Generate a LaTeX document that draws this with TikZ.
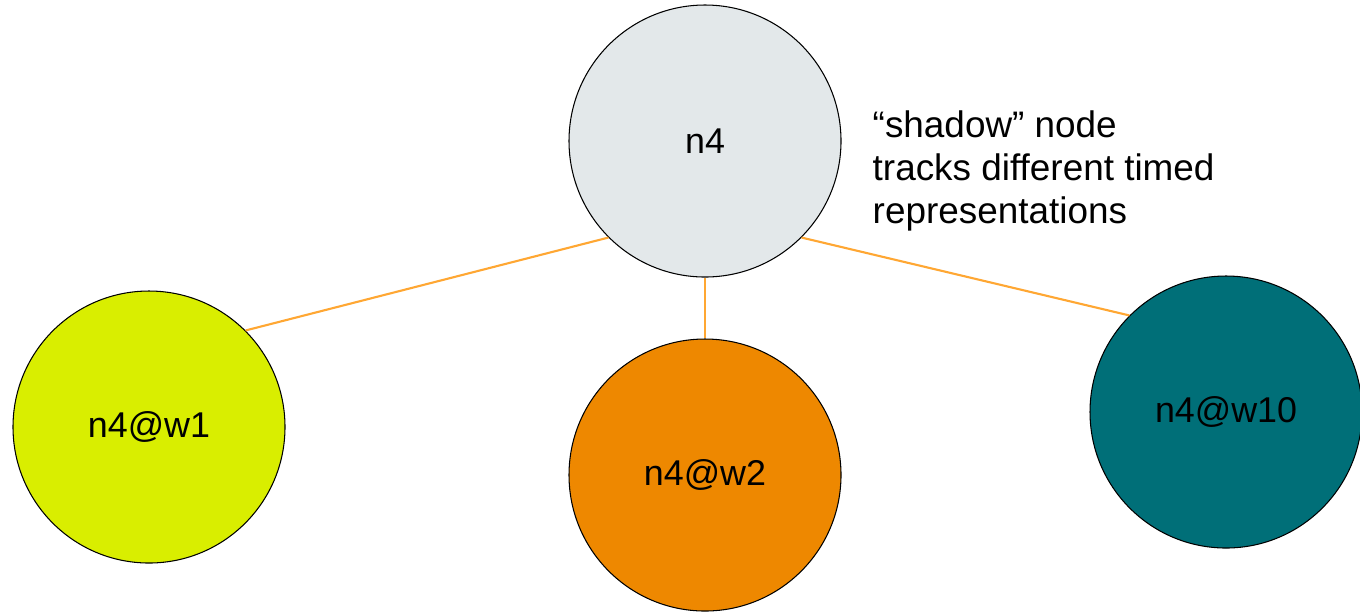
\documentclass[tikz,border=0pt]{standalone}
\usepackage{fontspec}
\setmainfont{Liberation Sans}
\usepackage{xcolor}

\definecolor{shadowgray}{HTML}{E3E8EA}
\definecolor{wonelime}{HTML}{D9EE00}
\definecolor{wtwoorange}{HTML}{EE8800}
\definecolor{wtenteal}{HTML}{006F78}
\definecolor{linkorange}{HTML}{FFA733}

\begin{document}
\begin{tikzpicture}[
        window/.style={circle, draw=black, line width=0.3pt, minimum size=2.72cm,
            inner sep=0pt, font=\fontsize{10.2}{12}\selectfont},
        link/.style={draw=linkorange, line width=0.6pt}]
        \useasboundingbox (0,0) rectangle (13.6,-6.11);
        % Shadow node on top
        \node[window, fill=shadowgray] (n4) at (7.05,-1.41) {n4};
        % Timed copies, one per window
        \node[window, fill=wonelime] (w1) at (1.49,-4.27) {n4@w1};
        \node[window, fill=wtwoorange] (w2) at (7.05,-4.75) {n4@w2};
        \node[window, fill=wtenteal] (w10) at (12.26,-4.12) {n4@w10};
        % Links from the shadow node
        \draw[link] (n4.-135) -- (w1.45);
        \draw[link] (n4.south) -- (w2.north);
        \draw[link] (n4.-45) -- (w10.135);
        % Note next to the shadow node (base is the last line)
        \node[anchor=base west, align=left, inner sep=0pt,
            font=\fontsize{10.5}{12.2}\selectfont] (note) at (8.72,-2.23)
            {“shadow” node\\tracks different timed\\representations};
    \end{tikzpicture}
\end{document}
